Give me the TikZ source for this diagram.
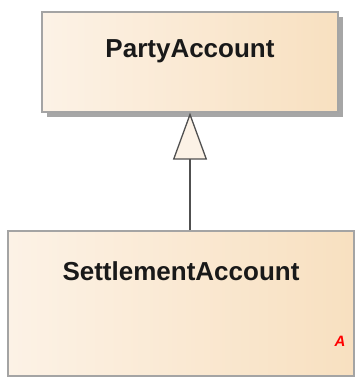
\documentclass[tikz,border=0pt]{standalone}
\usepackage{fontspec}
\setmainfont{Liberation Sans}
\usetikzlibrary{arrows.meta, positioning, shadows}
\definecolor{eaborder}{HTML}{A4A4A4}
\definecolor{ealeft}{HTML}{FCF2E6}
\definecolor{earight}{HTML}{F8E0C0}
\definecolor{ealine}{HTML}{505050}

\begin{document}
\begin{tikzpicture}[
  x=1pt, y=-1pt, semithick,
  classbox/.style={rectangle,draw=eaborder,line width=1.2pt,
    left color=ealeft,right color=earight,inner sep=0pt},
  classname/.style={font=\fontsize{26}{30}\selectfont\bfseries,inner sep=0pt,text=black!90}
]
\useasboundingbox (0,0) rectangle (355,378);

% --- Classes ---
\node[classbox,minimum width=296pt,minimum height=100pt,
  drop shadow={shadow xshift=5pt,shadow yshift=-5pt,fill=black!35,opacity=1}]
  (pa) at (190,62) {};
\node[classname,below=40pt of pa.north,anchor=center] (paname) {PartyAccount};

\node[classbox,minimum width=346pt,minimum height=145pt] (sa) at (181,303.5) {};
\node[classname,below=41pt of sa.north,anchor=center] (saname) {SettlementAccount};
\node[font=\fontsize{15}{16}\selectfont\bfseries\itshape,text=red,inner sep=0pt]
  (sanote) at (340,341) {A};

% --- Generalization ---
\draw[ealine,line width=1.3pt,
  -{Triangle[length=47pt,width=34pt,fill=ealeft]}]
  (pa.south |- sa.north) -- (pa.south);

\end{tikzpicture}
\end{document}
